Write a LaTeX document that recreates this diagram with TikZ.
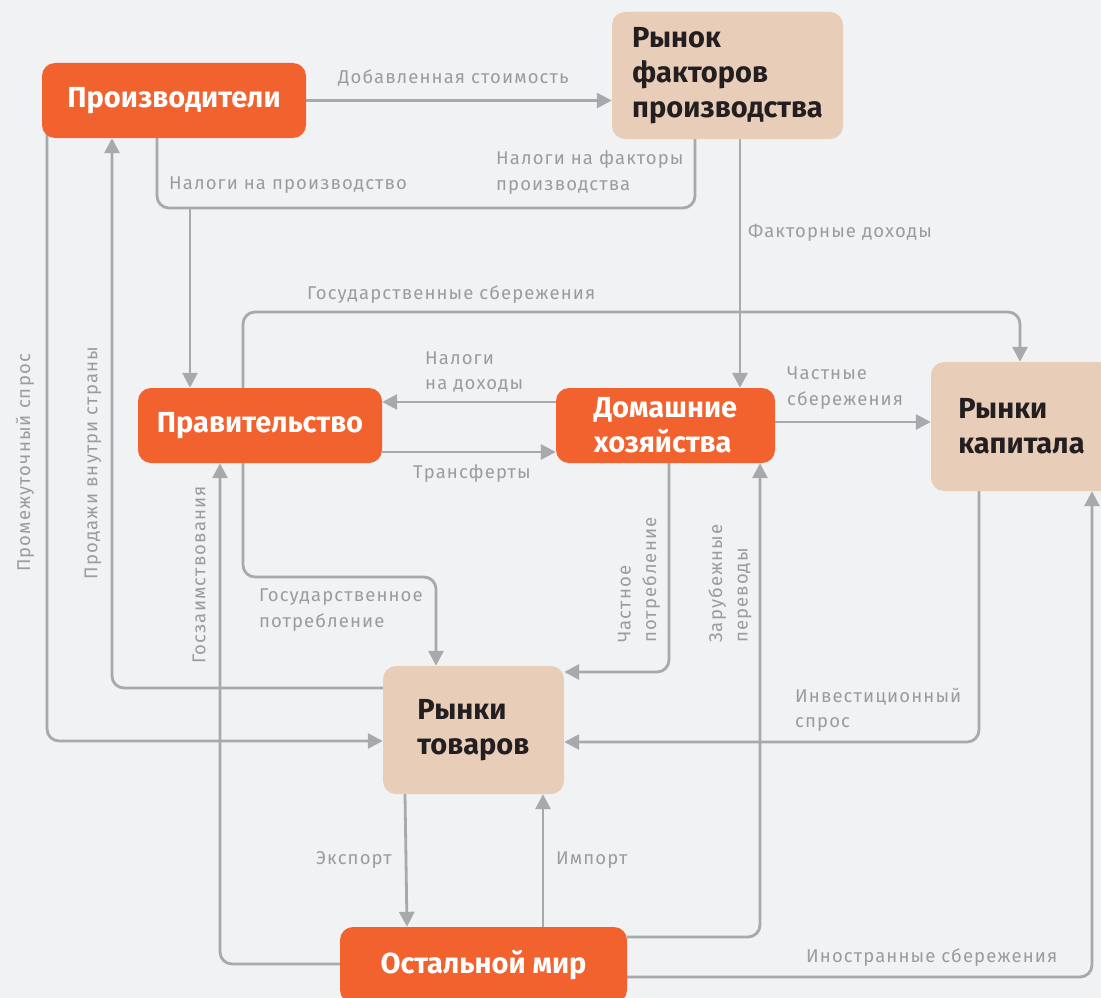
\documentclass[tikz,border=0pt]{standalone}
\usepackage{fontspec}
\setmainfont{Fira Sans}
\usetikzlibrary{arrows.meta}
\definecolor{bg}{HTML}{F1F2F4}
\definecolor{org}{HTML}{F2622E}
\definecolor{beige}{HTML}{E8CDB9}
\definecolor{ln}{HTML}{A7A9AC}
\definecolor{lbl}{HTML}{9A9C9F}
\definecolor{dark}{HTML}{231F20}
\pgfdeclarelayer{back}
\pgfdeclarelayer{mid}
\pgfsetlayers{back,mid,main}
\begin{document}
\begin{tikzpicture}[x=1pt,y=-1pt,
 obox/.style={fill=org, rounded corners=13pt, text=white, align=center,
   font=\fontsize{29}{35}\selectfont\bfseries, inner sep=0pt},
 bbox/.style={fill=beige, rounded corners=13pt, text=dark, align=left,
   font=\fontsize{29}{35}\selectfont\bfseries, inner sep=0pt},
 flow/.style={draw=ln, line width=2.8pt, rounded corners=12pt,
   -{Triangle[length=15pt,width=15pt]}},
 plain/.style={draw=ln, line width=2.8pt, rounded corners=12pt},
 lab/.style={text=lbl, font=\fontsize{18.5}{25.5}\selectfont\addfontfeature{LetterSpace=6}, inner sep=0pt, anchor=west, align=left},
]
\useasboundingbox (0,0) rectangle (1101,998);
\begin{pgfonlayer}{back}
\fill[bg] (0,0) rectangle (1101,998);
\end{pgfonlayer}

% boxes
\node[obox, minimum width=264pt, minimum height=75pt] (prod) at (174,100.5) {Производители};
\node[bbox, minimum width=231pt, minimum height=127pt] (fact) at (727.5,75.5) {Рынок\\факторов\\производства};
\node[obox, minimum width=244pt, minimum height=75pt] (gov) at (260,425.5) {Правительство};
\node[obox, minimum width=219pt, minimum height=75pt, align=left] (hh) at (665.5,425.5) {Домашние\\хозяйства};
\node[bbox, minimum width=181pt, minimum height=129pt] (kap) at (1021.5,426.5) {Рынки\\капитала};
\node[bbox, minimum width=181pt, minimum height=128pt] (tov) at (473.5,730) {Рынки\\товаров};
\node[obox, minimum width=287pt, minimum height=76pt] (world) at (483.5,965) {Остальной мир};

\begin{pgfonlayer}{mid}
\coordinate (taxj) at (190,208);
% producers -> factor market
\draw[flow] (prod.east) -- (fact.west |- prod.east);
% taxes on production / factors
\draw[plain] (prod.south -| 157,0) |- (695,208) -- (fact.south -| 695,0);
\draw[flow] (taxj) -- (gov.north -| taxj);
% factor incomes
\draw[flow] (fact.south -| 740,0) -- (hh.north -| 740,0);
% government savings
\draw[flow] (gov.north -| 243,0) |- (1020,312) -- (kap.north -| 1020,0);
% income taxes
\draw[flow] (hh.west |- 0,402) -- (gov.east |- 0,402);
% transfers
\draw[flow] (gov.east |- 0,452) -- (hh.west |- 0,452);
% private savings
\draw[flow] (hh.east |- 0,422) -- (kap.west |- 0,422);
% government consumption
\draw[flow] (gov.south -| 243,0) |- (436,577) -- (tov.north -| 436,0);
% private consumption
\draw[flow] (hh.south -| 669,0) |- (tov.east |- 0,672);
% foreign transfers
\draw[flow] (world.east |- 0,937) -| (hh.south -| 760,0);
% investment demand
\draw[flow] (kap.south -| 979,0) |- (tov.east |- 0,742);
% foreign savings
\draw[flow] (world.east |- 0,977) -| (kap.south -| 1092,0);
% domestic sales
\draw[flow] (tov.west |- 0,688) -| (prod.south -| 112,0);
% intermediate demand
\draw[flow] (47,125) |- (tov.west |- 0,741);
% government borrowing
\draw[flow] (world.west |- 0,964) -| (gov.south -| 220,0);
% export
\draw[flow] (tov.south -| 405,0) -- (world.north -| 407,0);
% import
\draw[flow] (world.north -| 543,0) -- (tov.south -| 543,0);
\end{pgfonlayer}

% labels
\node[lab] (l1) at (338,78) {Добавленная стоимость};
\node[lab] (l2) at (169,185) {Налоги на производство};
\node[lab] (l3) at (496,172.5) {Налоги на факторы\\производства};
\node[lab] (l4) at (748,233) {Факторные доходы};
\node[lab] (l5) at (307,295) {Государственные сбережения};
\node[lab] (l6) at (425,372) {Налоги\\на доходы};
\node[lab] (l7) at (413,474) {Трансферты};
\node[lab] (l8) at (787,388) {Частные\\сбережения};
\node[lab] (l9) at (259,610) {Государственное\\потребление};
\node[lab] (l10) at (795,710) {Инвестиционный\\спрос};
\node[lab] (l11) at (806,958) {Иностранные сбережения};
\node[lab] (l12) at (316,860) {Экспорт};
\node[lab] (l13) at (556,860) {Импорт};
\node[lab, rotate=90, anchor=center] (l14) at (25,463) {Промежуточный спрос};
\node[lab, rotate=90, anchor=center] (l15) at (93,463) {Продажи внутри страны};
\node[lab, rotate=90, anchor=center] (l16) at (199,575) {Госзаимствования};
\node[lab, rotate=90, anchor=west] (l17) at (639,643) {Частное\\потребление};
\node[lab, rotate=90, anchor=west] (l18) at (730,643) {Зарубежные\\переводы};
\end{tikzpicture}
\end{document}
